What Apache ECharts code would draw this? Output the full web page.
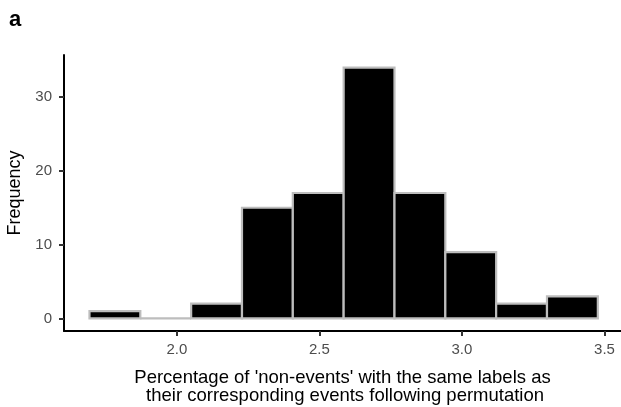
<!DOCTYPE html>
<html>
<head>
<meta charset="utf-8">
<script src="https://cdn.jsdelivr.net/npm/echarts@6/dist/echarts.min.js"></script>
<style>
  html, body { margin: 0; padding: 0; background: #fff; }
  #chart { width: 621px; height: 407px; }
</style>
</head>
<body>
<div id="chart"></div>
<script>
// histogram bins (left edge, right edge) and counts
const binStart = 1.6934;
const binWidth = 0.17833;
const counts = [1, 0, 2, 15, 17, 34, 17, 9, 2, 3];
const xTicks = [2.0, 2.5, 3.0, 3.5];
const yTicks = [0, 10, 20, 30];

const bins = counts.map((c, i) => [binStart + i * binWidth, binStart + (i + 1) * binWidth, c]);

const chart = echarts.init(document.getElementById("chart"));

const option = {
  animation: false,
  textStyle: { fontFamily: "Liberation Sans, Arial, sans-serif" },
  title: {
    text: "a",
    left: 4,
    top: 4,
    textStyle: { fontSize: 22, fontWeight: "bold", color: "#000" },
  },
  grid: { left: 64, right: 0, top: 55, bottom: 76, containLabel: false, outerBoundsMode: "none" },
  xAxis: {
    type: "value",
    min: 1.604,
    max: 3.558,
    splitLine: { show: false },
    axisLine: { onZero: false, lineStyle: { color: "#000", width: 2 } },
    axisTick: { customValues: xTicks, length: 5, lineStyle: { color: "#333", width: 2 } },
    axisLabel: {
      customValues: xTicks,
      color: "#4d4d4d",
      fontSize: 15,
      margin: 11,
      formatter: (v) => v.toFixed(1),
    },
    name: "Percentage of 'non-events' with the same labels as\n their corresponding events following permutation",
    nameLocation: "middle",
    nameGap: 38,
    nameTextStyle: { color: "#000", fontSize: 18.5, lineHeight: 18 },
  },
  yAxis: {
    type: "value",
    min: -1.7,
    max: 35.7,
    splitLine: { show: false },
    axisLine: { show: true, onZero: false, lineStyle: { color: "#000", width: 2 } },
    axisTick: { show: true, customValues: yTicks, length: 5, lineStyle: { color: "#333", width: 2 } },
    axisLabel: { customValues: yTicks, color: "#4d4d4d", fontSize: 15, margin: 12 },
    name: "Frequency",
    nameLocation: "middle",
    nameGap: 38,
    nameTextStyle: { color: "#000", fontSize: 18 },
  },
  series: [
    {
      type: "custom",
      data: bins,
      encode: { x: [0, 1], y: 2 },
      renderItem: (params, api) => {
        const p0 = api.coord([api.value(0), 0]);
        const p1 = api.coord([api.value(1), api.value(2)]);
        return {
          type: "rect",
          shape: { x: p0[0], y: p1[1], width: p1[0] - p0[0], height: p0[1] - p1[1] },
          style: { fill: "#000", stroke: "#bdbdbd", lineWidth: 2.2 },
        };
      },
    },
  ],
};

chart.setOption(option);
</script>
</body>
</html>
